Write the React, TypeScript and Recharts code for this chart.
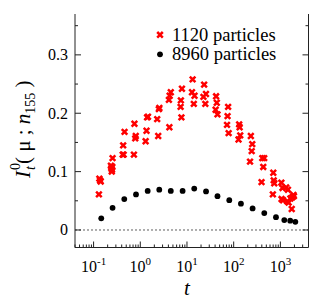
import React from 'react';
import { ScatterChart, Scatter, XAxis, YAxis, ReferenceLine } from 'recharts';

// 8960 particles (black dots)
const bigT = [0.146, 0.255, 0.454, 0.81, 1.44, 2.55, 4.5, 8.06, 14.3, 25.6, 45, 80.5, 143, 254, 452, 805, 1213, 1623, 2090];
const bigI = [0.02, 0.038, 0.053, 0.061, 0.067, 0.069, 0.067, 0.067, 0.071, 0.066, 0.058, 0.051, 0.045, 0.037, 0.029, 0.022, 0.017, 0.016, 0.014];

// 1120 particles (red crosses)
const smallT = [
  0.13, 0.133, 0.138, 0.142,
  0.235, 0.24, 0.245, 0.248, 0.252, 0.255,
  0.42, 0.43, 0.44, 0.46,
  0.73, 0.75, 0.78, 0.8,
  1.3, 1.36, 1.4, 1.46,
  2.3, 2.42, 2.5, 2.56,
  4.1, 4.2, 4.25, 4.5,
  7.3, 7.4, 7.6, 7.8,
  12.8, 13.2, 14, 14.5,
  22.5, 23.3, 24.7, 25.5,
  41, 42, 43.5, 45,
  72, 74, 76, 78,
  127, 131, 134, 138,
  224, 233, 243, 250,
  395, 410, 430, 450,
  690, 705, 720, 740,
  1050, 1060, 1110, 1140,
  1330, 1400, 1450, 1500,
  1640, 1750, 1800, 1900, 1950,
];
const smallI = [
  0.061, 0.088, 0.085, 0.083,
  0.11, 0.106, 0.1, 0.103, 0.108, 0.123,
  0.129, 0.145, 0.129, 0.168,
  0.129, 0.182, 0.157, 0.161,
  0.152, 0.17, 0.193, 0.194,
  0.19, 0.161, 0.207, 0.209,
  0.223, 0.176, 0.23, 0.236,
  0.211, 0.222, 0.193, 0.242,
  0.236, 0.258, 0.216, 0.23,
  0.228, 0.249, 0.216, 0.233,
  0.206, 0.229, 0.218, 0.198,
  0.18, 0.195, 0.211, 0.166,
  0.155, 0.181, 0.176, 0.162,
  0.117, 0.161, 0.135, 0.147,
  0.082, 0.123, 0.108, 0.123,
  0.061, 0.098, 0.085, 0.08,
  0.081, 0.053, 0.072, 0.051,
  0.073, 0.049, 0.069, 0.047,
  0.054, 0.036, 0.056, 0.06, 0.058,
];

const decades = [0.1, 1, 10, 100, 1000];
const xTicks = [
  0.04, 0.05, 0.06, 0.07, 0.08, 0.09,
  0.1, 0.2, 0.3, 0.4, 0.5, 0.6, 0.7, 0.8, 0.9,
  1, 2, 3, 4, 5, 6, 7, 8, 9,
  10, 20, 30, 40, 50, 60, 70, 80, 90,
  100, 200, 300, 400, 500, 600, 700, 800, 900,
  1000, 2000, 3000,
];
const yTicks = [0, 0.05, 0.1, 0.15, 0.2, 0.25, 0.3, 0.35];

const bigData = bigT.map((t, i) => ({ t, v: bigI[i] }));
const smallData = smallT.map((t, i) => ({ t, v: smallI[i] }));

const FONT = 'Liberation Serif';

const isDecade = (v: number) => decades.some((d) => Math.abs(d - v) < 1e-9);

const BottomTick = (props: any) => {
  const { x, y, payload } = props;
  const v = payload.value;
  const major = isDecade(v);
  const exp = Math.round(Math.log10(v));
  return (
    <g>
      <line x1={x} x2={x} y1={y} y2={y - (major ? 6 : 3)} stroke="#222" />
      {major && (
        <text x={x} y={y + 24} textAnchor="middle" fontFamily={FONT} fontSize={16} fill="#000">
          10<tspan dy={-7} fontSize={11}>{exp}</tspan>
        </text>
      )}
    </g>
  );
};

const TopTick = (props: any) => {
  const { x, y, payload } = props;
  const major = isDecade(payload.value);
  return <line x1={x} x2={x} y1={y} y2={y + (major ? 6 : 3)} stroke="#222" />;
};

const isMajorY = (v: number) => Math.abs(v * 10 - Math.round(v * 10)) < 1e-6;

const LeftTick = (props: any) => {
  const { x, y, payload } = props;
  const v = payload.value;
  const major = isMajorY(v);
  return (
    <g>
      <line x1={x} x2={x + (major ? 6 : 3)} y1={y} y2={y} stroke="#222" />
      {major && (
        <text x={x - 7} y={y + 5.5} textAnchor="end" fontFamily={FONT} fontSize={16} fill="#000">
          {v === 0 ? '0' : v.toFixed(1)}
        </text>
      )}
    </g>
  );
};

const RightTick = (props: any) => {
  const { x, y, payload } = props;
  const major = isMajorY(payload.value);
  return <line x1={x} x2={x - (major ? 6 : 3)} y1={y} y2={y} stroke="#222" />;
};

const Cross = (props: any) => {
  const { cx, cy } = props;
  if (cx == null || cy == null) return null;
  const s = 2.8;
  return (
    <path
      d={`M${cx - s},${cy - s}L${cx + s},${cy + s}M${cx - s},${cy + s}L${cx + s},${cy - s}`}
      stroke="#ff0000"
      strokeWidth={2.5}
    />
  );
};

const Dot = (props: any) => {
  const { cx, cy } = props;
  if (cx == null || cy == null) return null;
  return <circle cx={cx} cy={cy} r={2.9} fill="#000" />;
};

const Nothing = () => <g />;

export default function App() {
  return (
    <div style={{ position: 'absolute', left: 0, top: 0, width: 327, height: 302, background: '#fff' }}>
      <ScatterChart width={327} height={302} margin={{ top: 14, right: 0, bottom: 0, left: 0 }}>
        <XAxis
          xAxisId="b"
          dataKey="t"
          type="number"
          scale="log"
          domain={[0.04, 4000]}
          allowDataOverflow
          ticks={xTicks}
          interval={0}
          height={54.5}
          tickSize={0}
          tickMargin={0}
          tick={<BottomTick />}
          axisLine={{ stroke: '#222' }}
          tickLine={false}
        />
        <XAxis
          xAxisId="tp"
          orientation="top"
          dataKey="t"
          type="number"
          scale="log"
          domain={[0.04, 4000]}
          allowDataOverflow
          ticks={xTicks}
          interval={0}
          height={0}
          tickSize={0}
          tickMargin={0}
          tick={<TopTick />}
          axisLine={{ stroke: '#222' }}
          tickLine={false}
        />
        <YAxis
          yAxisId="l"
          dataKey="v"
          type="number"
          domain={[-0.03, 0.37]}
          allowDataOverflow
          ticks={yTicks}
          interval={0}
          width={75}
          tickSize={0}
          tickMargin={0}
          tick={<LeftTick />}
          axisLine={{ stroke: '#222' }}
          tickLine={false}
        />
        <YAxis
          yAxisId="r"
          orientation="right"
          dataKey="v"
          type="number"
          domain={[-0.03, 0.37]}
          allowDataOverflow
          ticks={yTicks}
          interval={0}
          width={18.5}
          tickSize={0}
          tickMargin={0}
          tick={<RightTick />}
          axisLine={{ stroke: '#222' }}
          tickLine={false}
        />
        <ReferenceLine xAxisId="b" yAxisId="l" y={0} stroke="#333" strokeWidth={0.8} strokeDasharray="2 2" />
        <Scatter xAxisId="tp" yAxisId="r" data={bigData} shape={<Nothing />} isAnimationActive={false} />
        <Scatter xAxisId="b" yAxisId="l" name="1120 particles" data={smallData} shape={<Cross />} isAnimationActive={false} />
        <Scatter xAxisId="b" yAxisId="l" name="8960 particles" data={bigData} shape={<Dot />} isAnimationActive={false} />
      </ScatterChart>
      <svg width={327} height={302} style={{ position: 'absolute', left: 0, top: 0, pointerEvents: 'none' }}>
        {/* legend */}
        <path d="M157.2,32L162.8,37.6M157.2,37.6L162.8,32" stroke="#ff0000" strokeWidth={2.5} />
        <text x={172} y={40.5} fontFamily={FONT} fontSize={18.5} fill="#000">1120 particles</text>
        <circle cx={160} cy={54.3} r={2.9} fill="#000" />
        <text x={172} y={60} fontFamily={FONT} fontSize={18.5} fill="#000">8960 particles</text>
        {/* y label */}
        <text transform="translate(30,178) rotate(-90)" fontFamily={FONT} fontSize={21} fill="#000">
          <tspan fontStyle="italic">I</tspan>
          <tspan dx={1} dy={-10} fontSize={14}>0</tspan>
          <tspan dx={-7} dy={15} fontSize={14} fontStyle="italic">t</tspan>
          <tspan dx={2} dy={-5}>( μ ; </tspan>
          <tspan fontStyle="italic">n</tspan>
          <tspan dy={5} fontSize={14}>155</tspan>
          <tspan dy={-5}> )</tspan>
        </text>
        {/* x label */}
        <text x={187} y={295} textAnchor="middle" fontFamily={FONT} fontSize={21} fontStyle="italic" fill="#000">t</text>
      </svg>
    </div>
  );
}
